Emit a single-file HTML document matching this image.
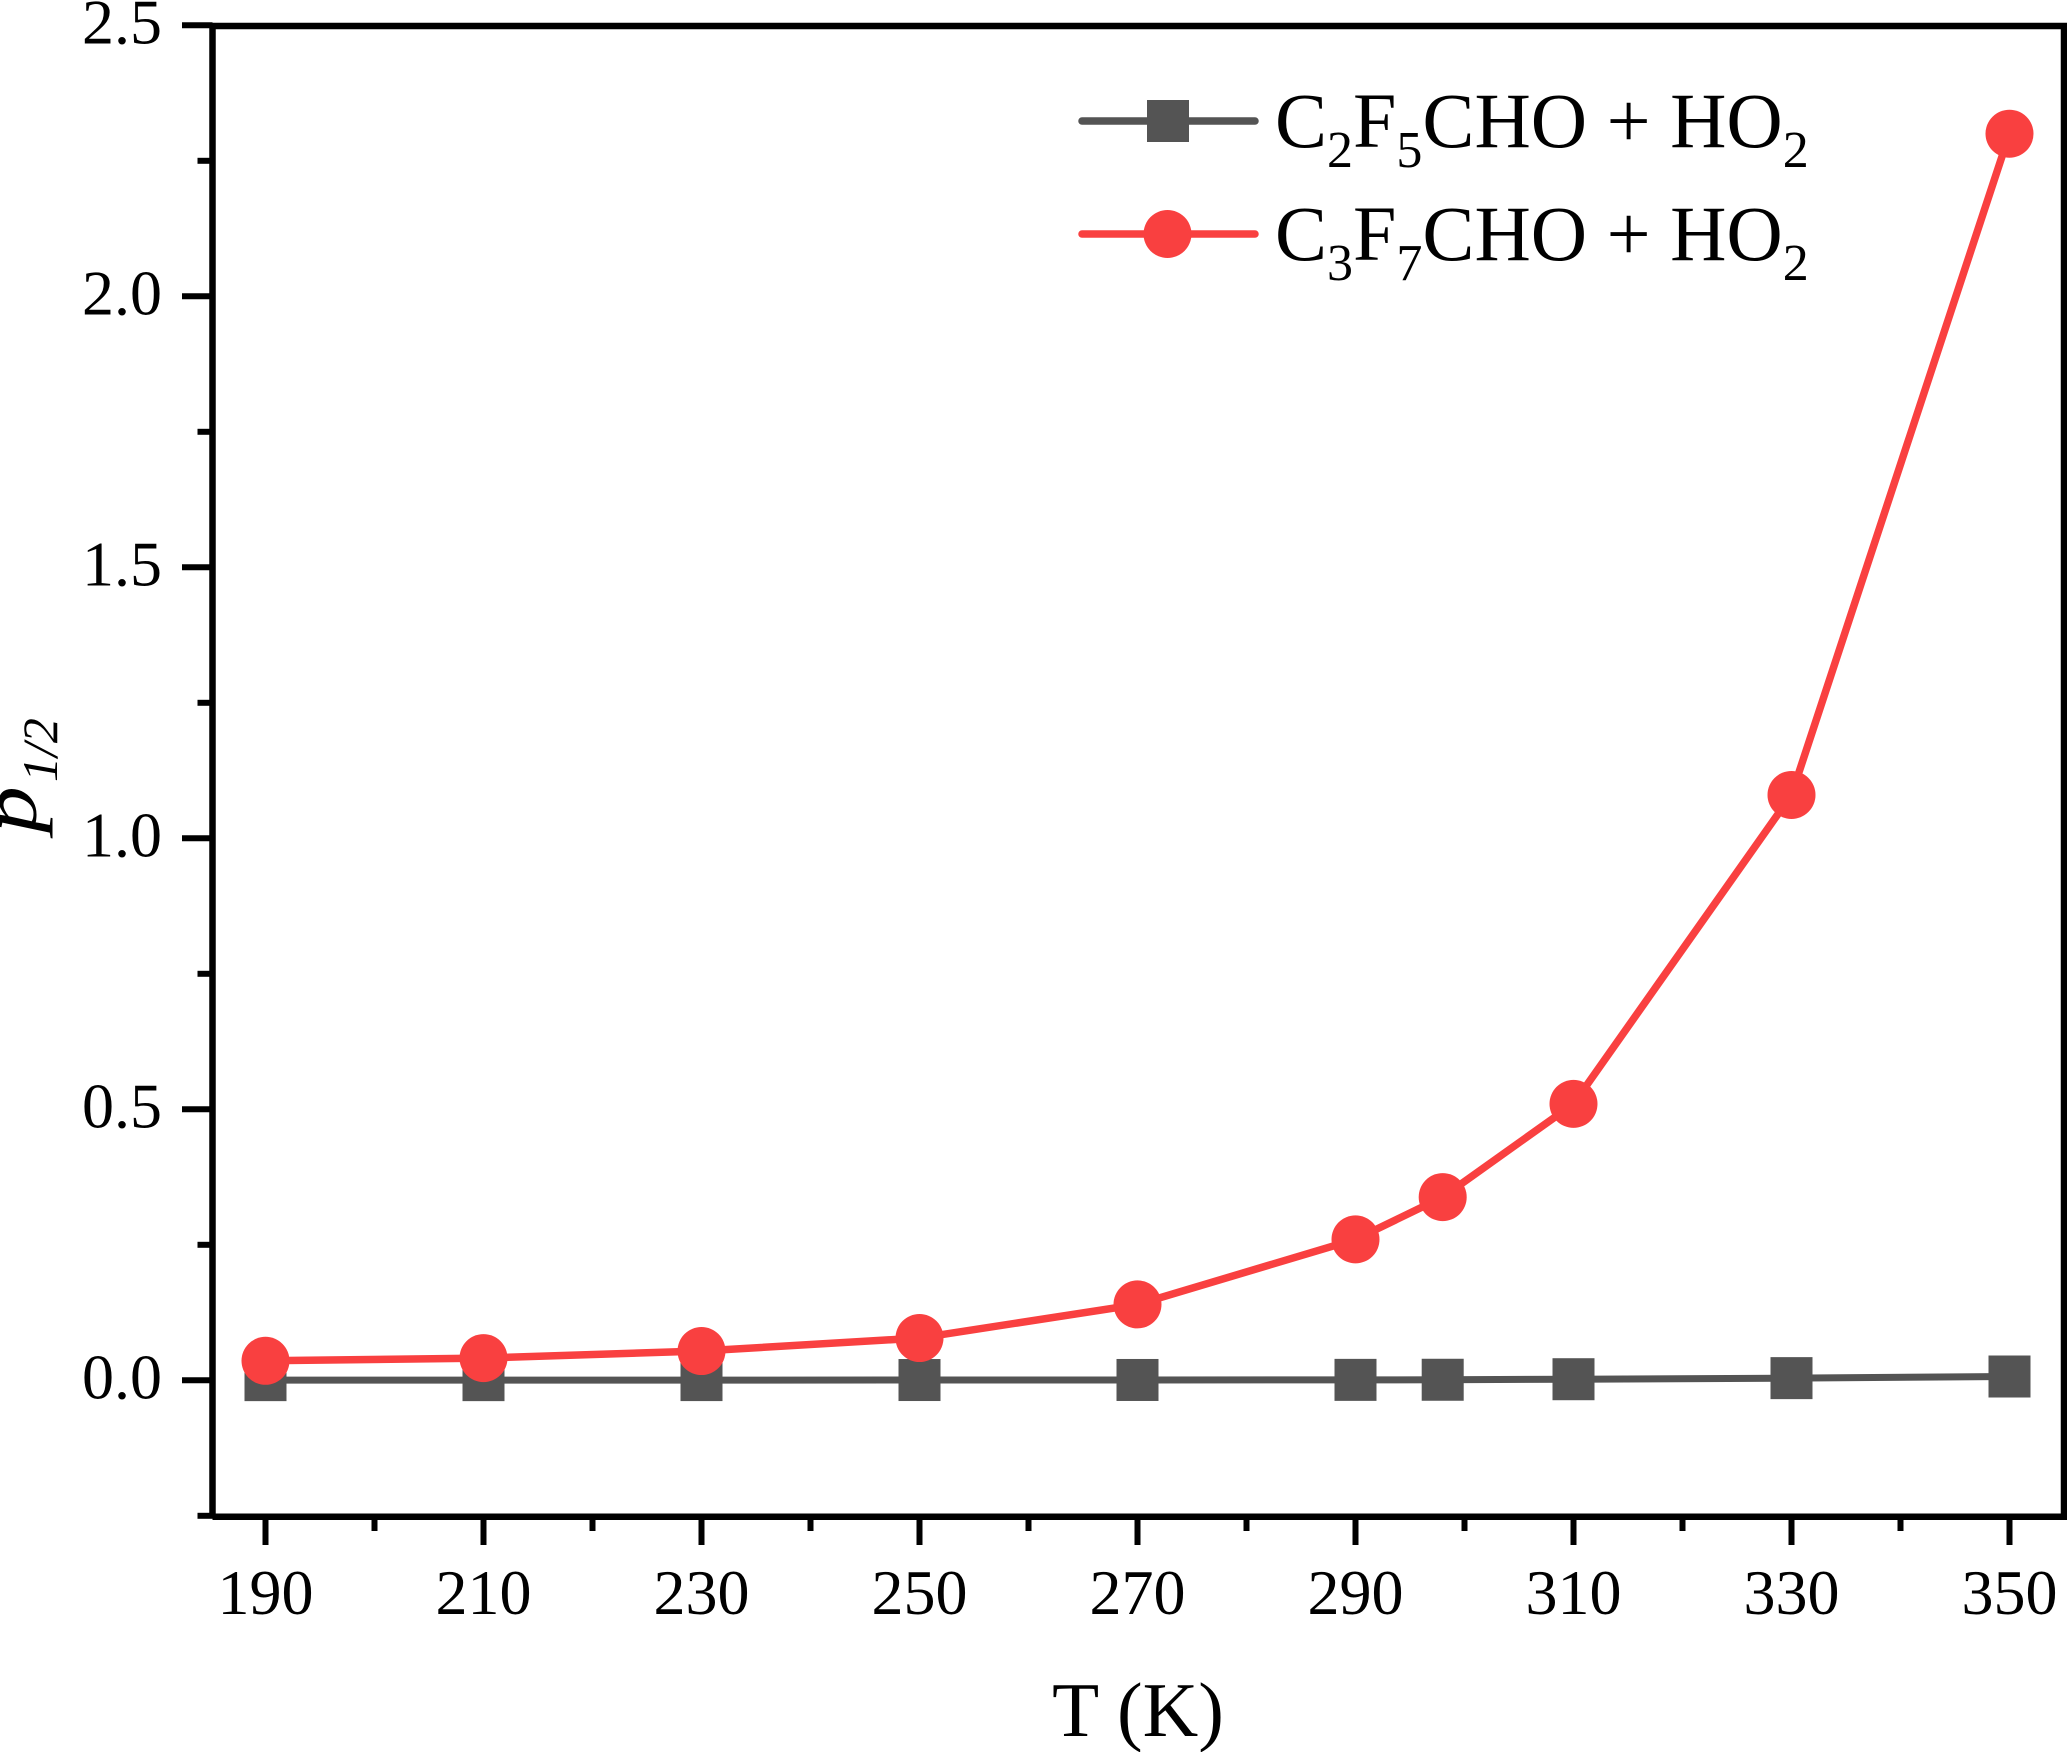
<!DOCTYPE html>
<html lang="en">
<head>
<meta charset="utf-8">
<title>p1/2 versus temperature</title>
<style>
html,body{margin:0;padding:0;background:#fff;}
svg{display:block;}
text{font-family:"Liberation Serif",serif;fill:#000;}
</style>
</head>
<body>
<svg id="chart" xmlns="http://www.w3.org/2000/svg" width="2067" height="1752" viewBox="0 0 2067 1752">
  <rect x="0" y="0" width="2067" height="1752" fill="#ffffff"/>
  <g id="axes"></g>
  <g id="series"></g>
  <text x="1138" y="1736" font-size="77" text-anchor="middle">T (K)</text>
  <g>
    <text transform="translate(36 833) rotate(-90) scale(1.2 1)" font-size="78" font-style="italic">p</text>
    <text transform="translate(57 782) rotate(-90)" font-size="50" font-style="italic">1/2</text>
  </g>
  <g>
    <g>
      <line x1="1082" y1="121" x2="1255" y2="121" stroke="#545454" stroke-width="7.5" stroke-linecap="round"/>
      <rect x="1147" y="100" width="42" height="42" fill="#545454"/>
      <text x="1275" y="147" font-size="78">C<tspan font-size="52" dy="20">2</tspan><tspan dy="-20">F</tspan><tspan font-size="52" dy="20">5</tspan><tspan dy="-20">CHO + HO</tspan><tspan font-size="52" dy="20">2</tspan></text>
    </g>
    <g>
      <line x1="1082" y1="234" x2="1255" y2="234" stroke="#f94040" stroke-width="7.5" stroke-linecap="round"/>
      <circle cx="1167.5" cy="234" r="24" fill="#f94040"/>
      <text x="1275" y="260" font-size="78">C<tspan font-size="52" dy="20">3</tspan><tspan dy="-20">F</tspan><tspan font-size="52" dy="20">7</tspan><tspan dy="-20">CHO + HO</tspan><tspan font-size="52" dy="20">2</tspan></text>
    </g>
  </g>
</svg>
<script>
const temperatures = [190, 210, 230, 250, 270, 290, 298, 310, 330, 350];
const c2f5Values = [0.0003, 0.0003, 0.0004, 0.0005, 0.0006, 0.0008, 0.001, 0.002, 0.004, 0.007];
const c3f7Values = [0.036, 0.041, 0.054, 0.078, 0.14, 0.26, 0.338, 0.51, 1.08, 2.3];
const xMajorTicks = [190, 210, 230, 250, 270, 290, 310, 330, 350];
const xMinorTicks = [200, 220, 240, 260, 280, 300, 320, 340];
const yMajorTicks = [0, 0.5, 1, 1.5, 2, 2.5];
const yMinorTicks = [-0.25, 0.25, 0.75, 1.25, 1.75, 2.25];

const SVG_NS = 'http://www.w3.org/2000/svg';
const INK = '#000000';
const GREY = '#545454';
const RED = '#f94040';
const axisLeft = 212.5, axisRight = 2064, axisTop = 26, axisBottom = 1516.7;

function xScale(v) { return 265.5 + (v - 190) * 10.9; }
function yScale(v) { return 1380.3 - v * 542; }

function make(tag, parent) {
  const el = document.createElementNS(SVG_NS, tag);
  parent.appendChild(el);
  return el;
}
function setLine(el, x1, y1, x2, y2, color, width) {
  el.setAttribute('x1', x1);
  el.setAttribute('y1', y1);
  el.setAttribute('x2', x2);
  el.setAttribute('y2', y2);
  el.setAttribute('stroke', color);
  el.setAttribute('stroke-width', width);
}

const axes = document.getElementById('axes');
const seriesGroup = document.getElementById('series');

const spineLeft = make('line', axes);


setLine(spineLeft, axisLeft, axisTop, axisLeft, axisBottom, INK, 6.5);

const spineRight = make('line', axes);


setLine(spineRight, axisRight, axisTop, axisRight, axisBottom + 3, INK, 6.5);

const spineTop = make('line', axes);


setLine(spineTop, axisLeft, axisTop, axisRight + 3, axisTop, INK, 6.5);

const spineBottom = make('line', axes);


setLine(spineBottom, axisLeft, axisBottom, axisRight + 3, axisBottom, INK, 6.5);

xMajorTicks.forEach(function (v) {
  const tick = make('line', axes);
  
  
  setLine(tick, xScale(v), axisBottom, xScale(v), 1545, INK, 6);
  const label = make('text', axes);
  
  
  label.setAttribute('x', xScale(v));
  label.setAttribute('y', 1614);
  label.setAttribute('font-size', 64);
  label.setAttribute('text-anchor', 'middle');
  label.textContent = String(v);
});

xMinorTicks.forEach(function (v) {
  const tick = make('line', axes);
  
  
  setLine(tick, xScale(v), axisBottom, xScale(v), 1531, INK, 6);
});

yMajorTicks.forEach(function (v) {
  const tick = make('line', axes);
  
  
  setLine(tick, 182, yScale(v), axisLeft, yScale(v), INK, 6);
  const label = make('text', axes);
  
  
  label.setAttribute('x', 162);
  label.setAttribute('y', yScale(v) + 18);
  label.setAttribute('font-size', 64);
  label.setAttribute('text-anchor', 'end');
  label.textContent = v.toFixed(1);
});

yMinorTicks.forEach(function (v) {
  const tick = make('line', axes);
  
  
  setLine(tick, 197.5, yScale(v), axisLeft, yScale(v), INK, 6);
});

function pointsFor(values) {
  return values.map(function (v, i) { return xScale(temperatures[i]) + ',' + yScale(v); }).join(' ');
}

const greyLine = make('polyline', seriesGroup);


greyLine.setAttribute('points', pointsFor(c2f5Values));
greyLine.setAttribute('fill', 'none');
greyLine.setAttribute('stroke', GREY);
greyLine.setAttribute('stroke-width', 7);

c2f5Values.forEach(function (v, i) {
  const mark = make('rect', seriesGroup);
  
  
  mark.setAttribute('x', xScale(temperatures[i]) - 21);
  mark.setAttribute('y', yScale(v) - 21);
  mark.setAttribute('width', 42);
  mark.setAttribute('height', 42);
  mark.setAttribute('fill', GREY);
});

const redLine = make('polyline', seriesGroup);


redLine.setAttribute('points', pointsFor(c3f7Values));
redLine.setAttribute('fill', 'none');
redLine.setAttribute('stroke', RED);
redLine.setAttribute('stroke-width', 7.5);

c3f7Values.forEach(function (v, i) {
  const mark = make('circle', seriesGroup);
  
  
  mark.setAttribute('cx', xScale(temperatures[i]));
  mark.setAttribute('cy', yScale(v));
  mark.setAttribute('r', 24);
  mark.setAttribute('fill', RED);
});
</script>
</body>
</html>
